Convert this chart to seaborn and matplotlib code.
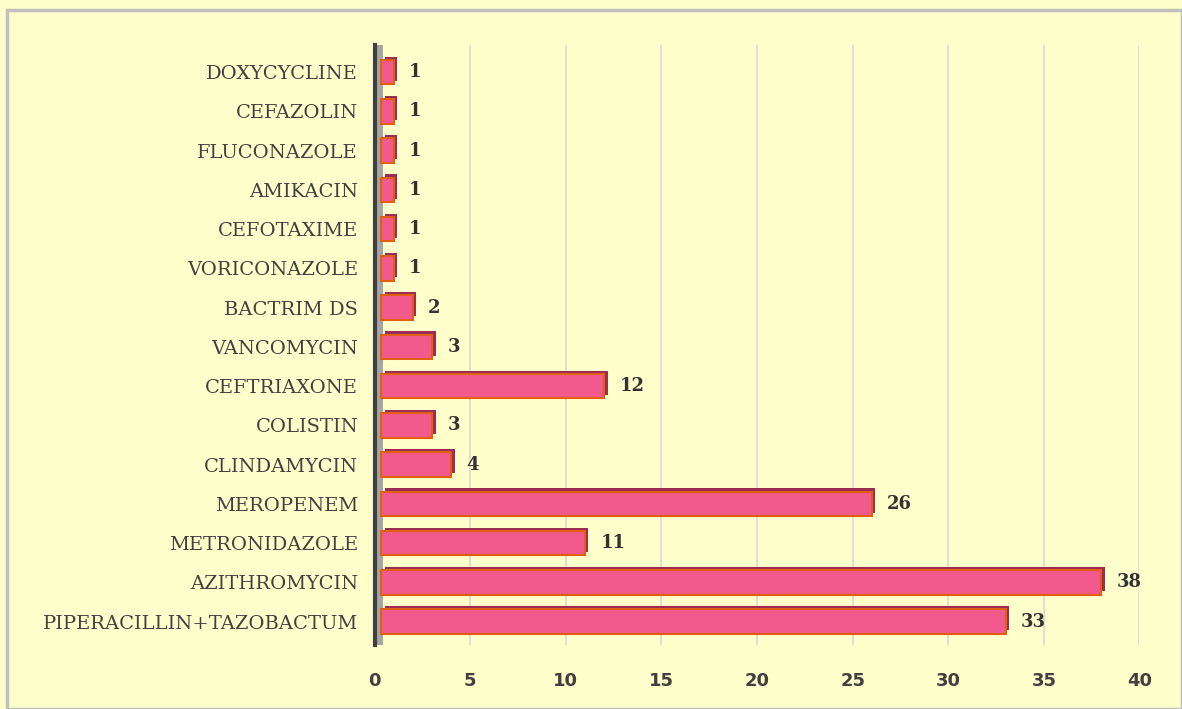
import matplotlib
matplotlib.use("Agg")
import matplotlib.pyplot as plt
import matplotlib.patheffects as pe
from matplotlib.patches import Rectangle
import seaborn as sns
import pandas as pd

drugs = ["DOXYCYCLINE", "CEFAZOLIN", "FLUCONAZOLE", "AMIKACIN", "CEFOTAXIME",
         "VORICONAZOLE", "BACTRIM DS", "VANCOMYCIN", "CEFTRIAXONE", "COLISTIN",
         "CLINDAMYCIN", "MEROPENEM", "METRONIDAZOLE", "AZITHROMYCIN",
         "PIPERACILLIN+TAZOBACTUM"]
counts = [1, 1, 1, 1, 1, 1, 2, 3, 12, 3, 4, 26, 11, 38, 33]
xticks = [0, 5, 10, 15, 20, 25, 30, 35, 40]

df = pd.DataFrame({"drug": drugs, "count": counts})

sns.set_theme(style="white")
bg = "#FFFFCC"
fig = plt.figure(figsize=(11.82, 7.09), dpi=100, facecolor=bg)
fig.patches.append(Rectangle((0.006, 0.0), 0.994, 0.986, transform=fig.transFigure,
                             fill=False, edgecolor="#BFBFBF", linewidth=2.5))
ax = fig.add_axes([0.317, 0.09, 0.647, 0.847])
ax.set_facecolor(bg)

sns.barplot(data=df, x="count", y="drug", orient="h", color="#F25A8E",
            edgecolor="#E0600F", linewidth=1.5, width=0.62, saturation=1,
            ax=ax, zorder=3)
wall = 0.35
for p in list(ax.patches):
    w = p.get_width()
    p.set_x(wall)
    p.set_width(w - wall)
    p.set_path_effects([pe.SimplePatchShadow(offset=(2.5, 2.5), shadow_rgbFace="#9B2C55", alpha=1),
                        pe.Normal()])
ax.axvspan(0, 0.45, color="#A6A6A6", zorder=1, lw=0)

for i, v in enumerate(counts):
    ax.text(v + 0.8, i, str(v), va="center", ha="left",
            fontsize=13, fontweight="bold", family="DejaVu Serif", color="#333333")

ax.set_xlim(0, 40)
ax.set_xticks(xticks)
ax.set_xticklabels([str(t) for t in xticks], fontsize=13, fontweight="bold",
                   family="DejaVu Sans", color="#404040")
ax.tick_params(axis="x", pad=19, length=0)
ax.tick_params(axis="y", length=0, pad=12)
for lab in ax.get_yticklabels():
    lab.set_family("DejaVu Serif")
    lab.set_fontsize(14)
    lab.set_color("#404040")
ax.set_xlabel("")
ax.set_ylabel("")
ax.xaxis.grid(True, color="#D9D9D9", linewidth=1.2, zorder=0)
ax.set_axisbelow(True)
for s in ["top", "right", "bottom"]:
    ax.spines[s].set_visible(False)
ax.spines["left"].set_color("#404040")
ax.spines["left"].set_linewidth(3)
ax.set_ylim(14.6, -0.7)

fig.savefig("out.png", dpi=100, facecolor=bg)
